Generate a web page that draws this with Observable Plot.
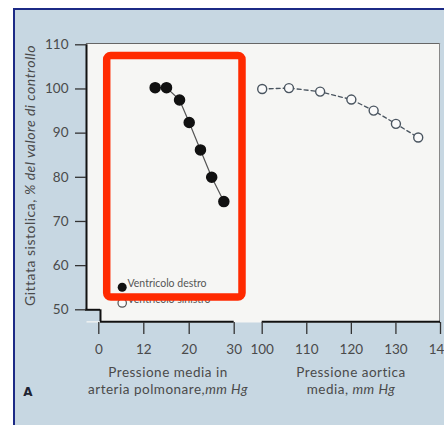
<!DOCTYPE html>
<html><head><meta charset="utf-8">
<script src="https://cdn.jsdelivr.net/npm/d3@7"></script>
<script src="https://cdn.jsdelivr.net/npm/@observablehq/plot@0.6"></script>
<style>
body{margin:0;background:#fff;width:444px;height:425px;overflow:hidden;position:relative;font-family:Lato,"Open Sans",sans-serif;}
#bg{position:absolute;left:13px;top:8px;width:431px;height:417px;background:#c7d7e2;border-left:2px solid #1c2a86;border-top:2px solid #1c2a86;}
#chart{position:absolute;left:0;top:0;}
</style></head><body>
<div id="bg"></div>
<div id="chart"></div>
<script>
// Right ventricle: mean pulmonary artery pressure (mm Hg) vs stroke volume (% of control)
const rvPressure = [14, 16, 18.3, 20, 22.5, 25, 27.7];
const rvStroke   = [100.3, 100.3, 97.5, 92.4, 86.2, 80.0, 74.5];
// Left ventricle: mean aortic pressure (mm Hg) vs stroke volume (% of control)
const lvPressure = [100, 106, 113, 120, 125, 130, 135];
const lvStroke   = [100.0, 100.2, 99.4, 97.6, 95.1, 92.1, 89.0];
// Broken x axis ticks and labels
const xTicks = [0, 12, 20, 30, 100, 110, 120, 130, 140];
const xTickLabels = ["0", "12", "20", "30", "100", "110", "120", "130", "140"];
const yTicks = [50, 60, 70, 80, 90, 100, 110];
const legendLabels = ["Ventricolo destro", "Ventricolo sinistro"];
// Highlight box around the right-ventricle panel (data units)
const highlightBox = [{x1: 2.24, x2: 50.75, y1: 107.46, y2: 52.79}];

// broken (piecewise) axis: break points and their relative spacing
const breakValues = [0, 12, 20, 30, 100, 140];
const breakSpacing = [0, 45, 90.4, 135.4, 163.4, 341.7];
const brk = d3.scaleLinear().domain(breakValues).range(breakSpacing);

const rv = rvPressure.map((x, i) => ({x, y: rvStroke[i]}));
const lv = lvPressure.map((x, i) => ({x, y: lvStroke[i]}));
// axis frame (data units): floor below 50, notch at the lower-left corner
const yFloor = 47.3, xWall = -3.28, xNotch = 0.45;
const axisSegs = [{x1: xNotch, x2: 30}, {x1: 100, x2: 140}];
const xTickPos = xTicks.map(d => brk(d));

const ink = "#4a4a4a";
const bg = "#c7d7e2";
const plot = Plot.plot({
  width: 444, height: 425,
  marginLeft: 86, marginTop: 43, marginBottom: 103, marginRight: 5,
  style: {background: "transparent", fontFamily: "Lato, 'Open Sans', sans-serif", color: ink, fontSize: "13px"},
  x: {type: "linear", domain: [0, brk(140)], range: [98.3, 440]},
  y: {domain: [50, 110], range: [309.3, 44.3]},
  marks: [
    Plot.frame({fill: "#f6f6f4", stroke: null}),
    Plot.rect([0], {x1: brk(xWall) - 1, x2: brk(xNotch), y1: yFloor, y2: 50, fill: bg}),
    Plot.frame({anchor: "top", stroke: "#666", strokeWidth: 1.2}),
    Plot.frame({anchor: "right", stroke: "#888", strokeWidth: 1}),
    Plot.ruleX([0], {x: brk(xWall), y1: 50, y2: 110, stroke: "#111", strokeWidth: 2}),
    Plot.ruleY([0], {y: 50, x1: brk(xWall) - 1, x2: brk(xNotch), stroke: "#111", strokeWidth: 2}),
    Plot.ruleX([0], {x: brk(xNotch), y1: yFloor, y2: 50, stroke: "#111", strokeWidth: 2}),
    Plot.ruleY(axisSegs, {x1: d => brk(d.x1), x2: d => brk(d.x2), y: () => yFloor, stroke: "#111", strokeWidth: 2}),
    Plot.axisY({ticks: yTicks, tickSize: 11, tickPadding: 7, label: null, fontSize: 13.5, stroke: "#333", strokeWidth: 1.3}),
    Plot.axisX(xTickPos, {tickFormat: d => xTickLabels[xTickPos.indexOf(d)], tickSize: 12, tickPadding: 10, label: null, fontSize: 13.5, stroke: "#333", strokeWidth: 1.3}),
    Plot.line(rv, {x: d => brk(d.x), y: "y", stroke: "#555", strokeWidth: 1.2}),
    Plot.line(lv, {x: d => brk(d.x), y: "y", stroke: "#4a5560", strokeWidth: 1.3, strokeDasharray: "4,3"}),
    Plot.dot(rv, {x: d => brk(d.x), y: "y", r: 5, fill: "#111", stroke: "#111"}),
    Plot.dot(lv, {x: d => brk(d.x), y: "y", r: 4.5, fill: "#fafafa", stroke: "#4a5560", strokeWidth: 1.4}),
    // legend
    Plot.dot([legendLabels[0]], {frameAnchor: "bottom-left", dx: 35.7, dy: -35.3, r: 4.5, fill: "#111"}),
    Plot.dot([legendLabels[1]], {frameAnchor: "bottom-left", dx: 35.7, dy: -19.5, r: 4.2, fill: "#fafafa", stroke: "#555", strokeWidth: 1.2}),
    Plot.text([legendLabels[0]], {frameAnchor: "bottom-left", text: d => d, dx: 41, dy: -35.3, textAnchor: "start", fontSize: 10.5, fill: "#555"}),
    Plot.text([legendLabels[1]], {frameAnchor: "bottom-left", text: d => d, dx: 41, dy: -19.5, textAnchor: "start", fontSize: 10.5, fill: "#555"}),
    // highlight
    Plot.rect(highlightBox, {x1: d => brk(d.x1), x2: d => brk(d.x2), y1: "y1", y2: "y2", fill: "none", stroke: "#ff2a00", strokeWidth: 7.5, rx: 4})
  ]
});
document.getElementById("chart").appendChild(plot);

const svg = d3.select(plot);
function label(x, y, parts, rotate, size, spacing) {
  const t = svg.append("text").attr("fill", ink).attr("font-size", size)
    .attr("letter-spacing", spacing)
    .attr("text-anchor", "middle").attr("dominant-baseline", "central")
    .attr("font-family", "Lato, 'Open Sans', sans-serif");
  if (rotate) t.attr("transform", `translate(${x},${y}) rotate(-90)`);
  else t.attr("x", x).attr("y", y);
  parts.forEach(([s, it]) => t.append("tspan").attr("font-style", it ? "italic" : null).text(s));
}
label(168, 371.5, [["Pressione media in", false]], false, 13.5, 0.5);
label(168, 388.5, [["arteria polmonare,", false], ["mm Hg", true]], false, 13.5, 0.5);
label(351, 371.5, [["Pressione aortica", false]], false, 13.5, 0.5);
label(351, 388.5, [["media, ", false], ["mm Hg", true]], false, 13.5, 0.5);
label(29, 175.5, [["Gittata sistolica, ", false], ["% del valore di controllo", true]], true, 14, 0.5);
svg.append("text").attr("x", 28).attr("y", 391.5).attr("text-anchor", "middle")
  .attr("dominant-baseline", "central").attr("font-family", "'DejaVu Sans', sans-serif")
  .attr("font-weight", "bold").attr("font-size", 12).attr("fill", "#1e2433").text("A");
</script>
</body></html>
